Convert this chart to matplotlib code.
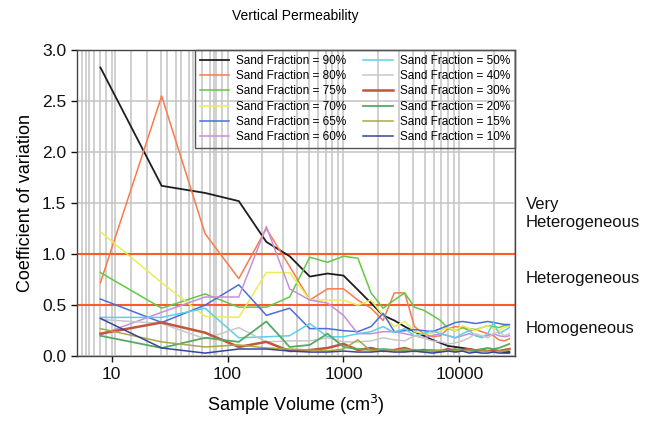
#!/usr/bin/env python

import numpy as np
import matplotlib
matplotlib.use("Agg")
import matplotlib.pyplot as plt
import matplotlib.transforms as mtransforms

# sample volumes (cm^3), one per block size
volumes = [8, 27, 64, 125, 216, 343, 512, 729, 1000, 1331, 1728, 2197, 2744,
           3375, 4096, 4913, 5832, 6859, 8000, 9261, 10648, 12167, 13824,
           15625, 17576, 19683, 21952, 24389, 27000]

fractions = ['90%', '80%', '75%', '70%', '65%', '60%',
             '50%', '40%', '30%', '20%', '15%', '10%']

cv_90 = [2.83, 1.67, 1.60, 1.52, 1.12, 0.98, 0.78, 0.81, 0.79, 0.65, 0.52, 0.40, 0.35,
         0.29, 0.24, 0.20, 0.16, 0.13, 0.10, 0.09, 0.08, 0.07, 0.06, 0.06, 0.05, 0.05,
         0.05, 0.04, 0.04]
cv_80 = [0.72, 2.55, 1.20, 0.76, 1.25, 0.88, 0.55, 0.66, 0.66, 0.55, 0.47, 0.35, 0.62,
         0.62, 0.29, 0.22, 0.19, 0.20, 0.27, 0.29, 0.28, 0.25, 0.26, 0.24, 0.22, 0.20,
         0.16, 0.15, 0.17]
cv_75 = [0.82, 0.47, 0.61, 0.48, 0.48, 0.58, 0.97, 0.92, 0.98, 0.96, 0.62, 0.47, 0.55,
         0.62, 0.48, 0.45, 0.40, 0.35, 0.27, 0.25, 0.28, 0.27, 0.26, 0.28, 0.30, 0.29,
         0.28, 0.30, 0.30]
cv_70 = [1.22, 0.72, 0.39, 0.38, 0.82, 0.82, 0.55, 0.55, 0.55, 0.50, 0.55, 0.40, 0.29,
         0.34, 0.24, 0.22, 0.22, 0.25, 0.28, 0.25, 0.30, 0.27, 0.25, 0.28, 0.30, 0.27,
         0.25, 0.28, 0.30]
cv_65 = [0.56, 0.33, 0.50, 0.70, 0.40, 0.47, 0.27, 0.27, 0.25, 0.24, 0.29, 0.42, 0.24,
         0.25, 0.26, 0.25, 0.24, 0.27, 0.30, 0.33, 0.34, 0.33, 0.32, 0.33, 0.34, 0.33,
         0.32, 0.31, 0.31]
cv_60 = [0.21, 0.43, 0.58, 0.58, 1.27, 0.66, 0.55, 0.52, 0.40, 0.22, 0.22, 0.24, 0.24,
         0.22, 0.20, 0.18, 0.20, 0.22, 0.20, 0.18, 0.20, 0.22, 0.20, 0.19, 0.20, 0.22,
         0.20, 0.19, 0.20]
cv_50 = [0.38, 0.38, 0.47, 0.18, 0.19, 0.20, 0.32, 0.19, 0.19, 0.22, 0.24, 0.29, 0.23,
         0.27, 0.20, 0.22, 0.25, 0.22, 0.20, 0.18, 0.22, 0.25, 0.20, 0.18, 0.22, 0.33,
         0.22, 0.25, 0.28]
cv_40 = [0.36, 0.32, 0.17, 0.28, 0.14, 0.15, 0.15, 0.18, 0.14, 0.14, 0.15, 0.18, 0.16,
         0.15, 0.20, 0.18, 0.15, 0.14, 0.12, 0.13, 0.15, 0.18, 0.22, 0.20, 0.18, 0.22,
         0.24, 0.20, 0.22]
cv_30 = [0.22, 0.33, 0.23, 0.09, 0.14, 0.05, 0.06, 0.08, 0.12, 0.06, 0.08, 0.05, 0.06,
         0.08, 0.05, 0.06, 0.05, 0.05, 0.07, 0.05, 0.06, 0.07, 0.05, 0.06, 0.05, 0.06,
         0.05, 0.06, 0.07]
cv_20 = [0.20, 0.08, 0.18, 0.14, 0.34, 0.09, 0.11, 0.22, 0.09, 0.07, 0.06, 0.07, 0.06,
         0.05, 0.06, 0.05, 0.06, 0.05, 0.06, 0.07, 0.05, 0.06, 0.06, 0.07, 0.08, 0.07,
         0.08, 0.10, 0.12]
cv_15 = [0.27, 0.14, 0.09, 0.11, 0.08, 0.07, 0.06, 0.05, 0.07, 0.16, 0.05, 0.06, 0.05,
         0.07, 0.05, 0.04, 0.05, 0.06, 0.05, 0.05, 0.06, 0.05, 0.04, 0.05, 0.05, 0.04,
         0.05, 0.05, 0.06]
cv_10 = [0.37, 0.08, 0.03, 0.07, 0.07, 0.05, 0.04, 0.04, 0.05, 0.04, 0.04, 0.05, 0.04,
         0.04, 0.05, 0.04, 0.03, 0.04, 0.05, 0.04, 0.05, 0.03, 0.04, 0.03, 0.03, 0.04,
         0.03, 0.03, 0.03]

series = [cv_90, cv_80, cv_75, cv_70, cv_65, cv_60,
          cv_50, cv_40, cv_30, cv_20, cv_15, cv_10]
colours = ['#1e1e1e', '#fa7a4c', '#62c845', '#ecec55', '#4a6fd8', '#c690d8',
           '#5ccfe6', '#c8c8c8', '#c4553c', '#56a862', '#a9a845', '#34459c']
widths = [1.3, 1.1, 1.1, 1.1, 1.1, 1.1, 1.1, 1.1, 1.8, 1.3, 1.1, 1.1]

# class limits and region labels
limits = [0.5, 1.0]
regions = ['Very\nHeterogeneous', 'Heterogeneous', 'Homogeneous']
region_y = [1.40, 0.76, 0.27]

extra_grid = [5.6, 6.4, 10.7, 14.7, 26.7, 35.7, 46.5, 76]


def PlotCV():
    plt.rcParams['font.family'] = ['Liberation Sans', 'DejaVu Sans']
    fig = plt.figure(figsize=(6.45, 4.25), dpi=100)
    ax = fig.add_axes([0.119, 0.162, 0.679, 0.720])

    ax.set_xscale('log')
    ax.set_xlim(5, 30000)
    ax.set_ylim(0, 3.0)

    # grid first so everything sits on top
    ax.grid(True, which='both', axis='x', color='#c4c4c4', lw=1.1)
    ax.grid(True, which='major', axis='y', color='#c4c4c4', lw=1.1)
    for gx in extra_grid:
        ax.axvline(gx, color='#c4c4c4', lw=1.1, zorder=0.5)
    ax.set_axisbelow(True)

    for lim in limits:
        ax.axhline(lim, color='#ff5a28', lw=1.5, zorder=1.5)

    handles = []
    for idx in range(len(series)):
        h, = ax.plot(volumes, series[idx], color=colours[idx], lw=widths[idx],
                     label='Sand Fraction = ' + fractions[idx], zorder=2)
        handles.append(h)

    ax.set_xticks([10, 100, 1000, 10000])
    ax.set_xticklabels(['10', '100', '1000', '10000'])
    ax.set_yticks(np.arange(0, 3.01, 0.5))
    ax.set_yticklabels(['%.1f' % v for v in np.arange(0, 3.01, 0.5)])
    ax.tick_params(axis='both', which='major', direction='out', length=4,
                   width=1, labelsize=12.5, colors='#111111')
    ax.tick_params(axis='x', which='minor', length=0)
    for sp in ax.spines.values():
        sp.set_color('#444444')
        sp.set_linewidth(1.0)

    ax.set_xlabel('Sample Volume (cm$^3$)', fontsize=13, labelpad=8)
    ax.set_ylabel('Coefficient of variation', fontsize=13, labelpad=6)
    ax.set_title('Vertical Permeability', fontsize=10, pad=22)

    leg = ax.legend(handles=handles, ncol=2, loc='upper right', fontsize=8.5,
                    borderaxespad=0, handlelength=2.5, handletextpad=0.6,
                    columnspacing=1.4, labelspacing=0.28, borderpad=0.4,
                    fancybox=False, framealpha=1)
    leg.get_frame().set_facecolor('none')
    leg.get_frame().set_edgecolor('#555555')
    leg.get_frame().set_linewidth(1.0)

    trans = mtransforms.blended_transform_factory(ax.transAxes, ax.transData)
    for name, yy in zip(regions, region_y):
        ax.text(1.025, yy, name, transform=trans, fontsize=12, va='center',
                ha='left', color='#111111', linespacing=1.25)

    fig.savefig('out.png', dpi=100)


PlotCV()
